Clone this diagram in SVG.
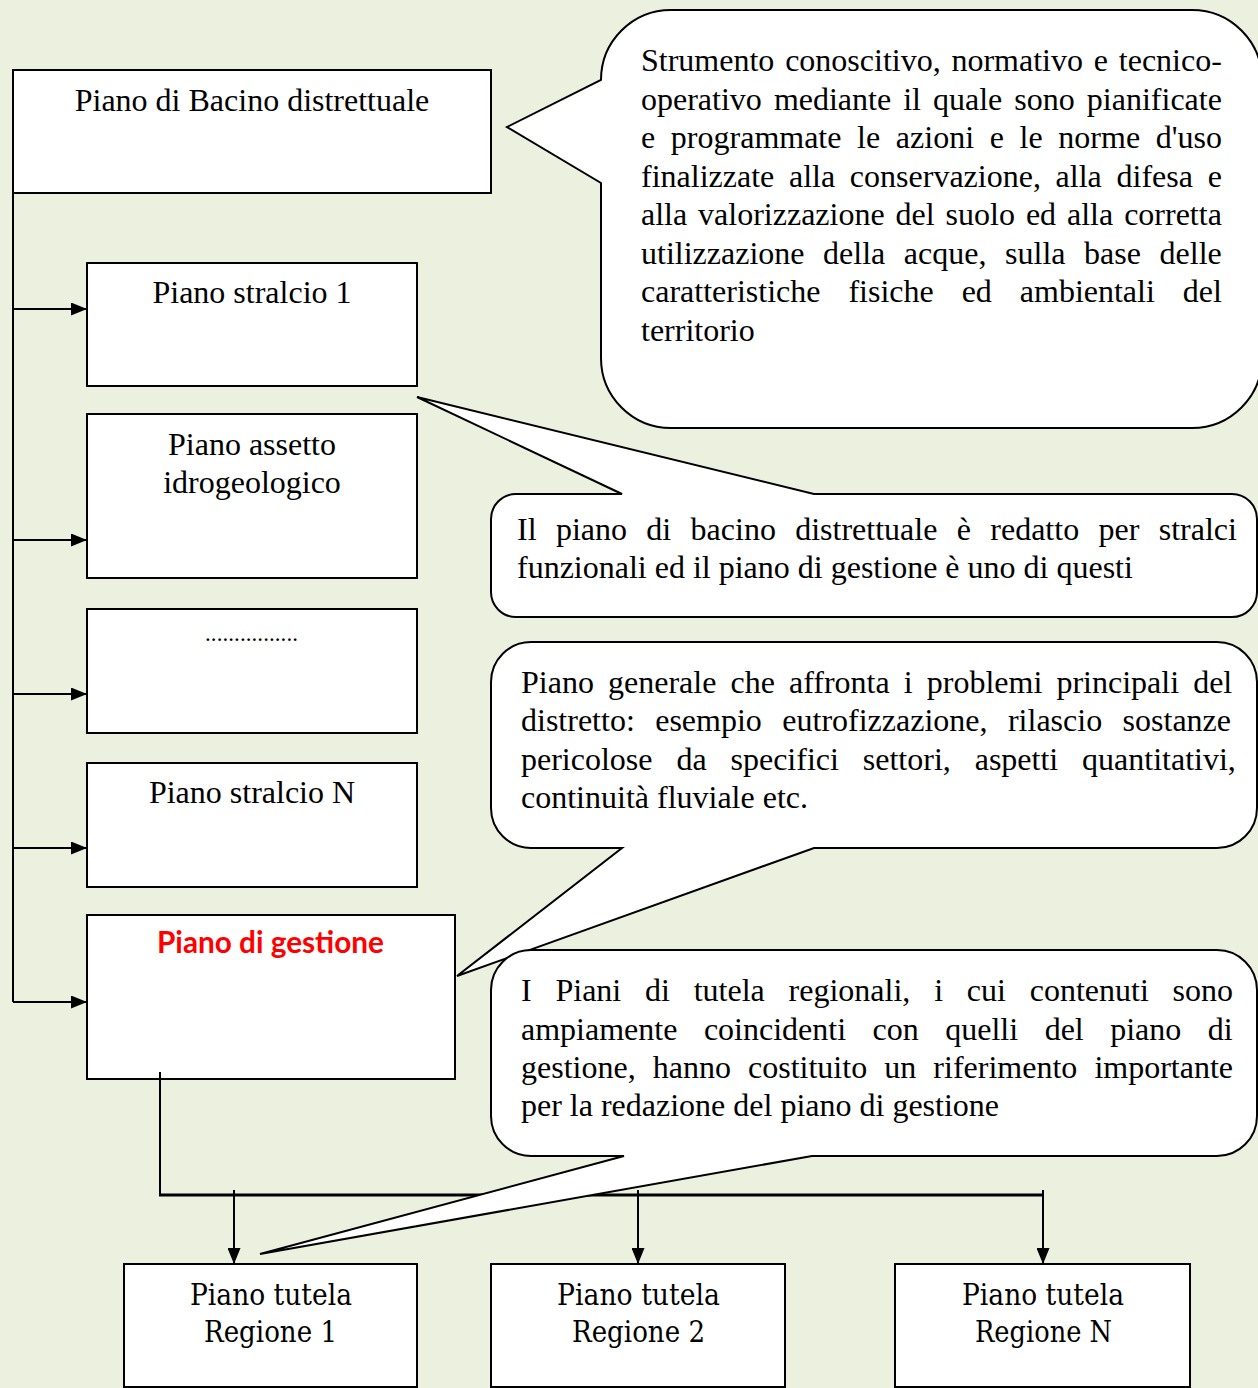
<svg xmlns="http://www.w3.org/2000/svg" width="1258" height="1388" viewBox="0 0 1258 1388">
<style>
.box{fill:#fff;stroke:#000;stroke-width:2}
.call{fill:#fff;stroke:#000;stroke-width:2;stroke-linejoin:miter}
.t{font-family:"Liberation Serif","Times New Roman",serif;font-size:32px;fill:#000}
.c{text-anchor:middle}
.cam{font-family:"DejaVu Serif",serif;font-size:30px;fill:#000}
.red{font-family:Lato,"Liberation Sans",sans-serif;font-weight:bold;font-size:30px;fill:#ff0000}
.ln{fill:none;stroke:#000;stroke-width:2}
</style>
<defs>
<marker id="ah" markerUnits="userSpaceOnUse" markerWidth="16" markerHeight="13" viewBox="0 0 16 13" refX="16" refY="6.5" orient="auto">
<path d="M0,0 L16,6.5 L0,13 z" fill="#000"/>
</marker>
</defs>
<rect width="1258" height="1388" fill="#EBF1DE"/>

<g id="node-bacino"><rect class="box" x="13" y="70" width="478" height="123"/><text class="t c" x="252" y="111">Piano di Bacino distrettuale</text></g>
<g id="node-stralcio1"><rect class="box" x="87" y="263" width="330" height="123"/><text class="t c" x="252" y="303">Piano stralcio 1</text></g>
<g id="node-assetto"><rect class="box" x="87" y="414" width="330" height="164"/><text class="t c" x="252" y="455">Piano assetto</text><text class="t c" x="252" y="493">idrogeologico</text></g>
<g id="node-dots"><rect class="box" x="87" y="609" width="330" height="124"/><text class="t" x="205" y="641" style="font-size:23px" textLength="93" lengthAdjust="spacing">................</text></g>
<g id="node-stralcioN"><rect class="box" x="87" y="763" width="330" height="124"/><text class="t c" x="252" y="803">Piano stralcio N</text></g>
<g id="node-gestione"><rect class="box" x="87" y="915" width="368" height="164"/><text class="red" x="157" y="953" textLength="227" lengthAdjust="spacingAndGlyphs">Piano di gestione</text></g>
<g id="node-reg1"><rect class="box" x="124" y="1264" width="293" height="123"/><text class="cam" x="190" y="1305" textLength="162" lengthAdjust="spacingAndGlyphs">Piano tutela</text><text class="cam" x="204" y="1342" textLength="133" lengthAdjust="spacingAndGlyphs">Regione 1</text></g>
<g id="node-reg2"><rect class="box" x="491" y="1264" width="294" height="123"/><text class="cam" x="557" y="1305" textLength="163" lengthAdjust="spacingAndGlyphs">Piano tutela</text><text class="cam" x="572" y="1342" textLength="133" lengthAdjust="spacingAndGlyphs">Regione 2</text></g>
<g id="node-regN"><rect class="box" x="895" y="1264" width="295" height="123"/><text class="cam" x="962" y="1305" textLength="162" lengthAdjust="spacingAndGlyphs">Piano tutela</text><text class="cam" x="975" y="1342" textLength="137" lengthAdjust="spacingAndGlyphs">Regione N</text></g>

<g id="connectors">
<path class="ln" d="M13,138 V1002"/>
<path class="ln" d="M13,309 H87" marker-end="url(#ah)"/>
<path class="ln" d="M13,540 H87" marker-end="url(#ah)"/>
<path class="ln" d="M13,694 H87" marker-end="url(#ah)"/>
<path class="ln" d="M13,848 H87" marker-end="url(#ah)"/>
<path class="ln" d="M13,1002 H87" marker-end="url(#ah)"/>
<path class="ln" d="M160,1072 V1195"/>
<path class="ln" style="stroke-width:3" d="M159,1195 H1044"/>
<path class="ln" d="M234,1190 V1264" marker-end="url(#ah)"/>
<path class="ln" d="M638,1190 V1264" marker-end="url(#ah)"/>
<path class="ln" d="M1043,1190 V1264" marker-end="url(#ah)"/>
</g>

<g id="callout-strumento">
<path class="call" d="M671,10 H1192 A70,70 0 0 1 1262,80 V358 A70,70 0 0 1 1192,428 H671 A70,70 0 0 1 601,358 V183 L507,127 L601,80 A70,70 0 0 1 671,10 Z"/>
<text class="t" x="641" y="71" style="word-spacing:2.8px">Strumento conoscitivo, normativo e tecnico-</text>
<text class="t" x="641" y="109.5" style="word-spacing:4.04px">operativo mediante il quale sono pianificate</text>
<text class="t" x="641" y="148" style="word-spacing:7.66px">e programmate le azioni e le norme d'uso</text>
<text class="t" x="641" y="186.5" style="word-spacing:6.72px">finalizzate alla conservazione, alla difesa e</text>
<text class="t" x="641" y="225" style="word-spacing:2.93px">alla valorizzazione del suolo ed alla corretta</text>
<text class="t" x="641" y="263.5" style="word-spacing:10.6px">utilizzazione della acque, sulla base delle</text>
<text class="t" x="641" y="302" style="word-spacing:19.95px">caratteristiche fisiche ed ambientali del</text>
<text class="t" x="641" y="340.5">territorio</text>
</g>

<g id="callout-stralci">
<path class="call" d="M516,494 H622 L417,397 L814,494 H1232 A25,25 0 0 1 1257,519 V592 A25,25 0 0 1 1232,617 H516 A25,25 0 0 1 491,592 V519 A25,25 0 0 1 516,494 Z"/>
<text class="t" x="517" y="540" style="word-spacing:11.35px">Il piano di bacino distrettuale è redatto per stralci</text>
<text class="t" x="517" y="578">funzionali ed il piano di gestione è uno di questi</text>
</g>

<g id="callout-generale">
<path class="call" d="M531,642 H1217 A40,40 0 0 1 1257,682 V808 A40,40 0 0 1 1217,848 H814 L457,976 L622,848 H531 A40,40 0 0 1 491,808 V682 A40,40 0 0 1 531,642 Z"/>
<text class="t" x="521" y="693" style="word-spacing:6.11px">Piano generale che affronta i problemi principali del</text>
<text class="t" x="521" y="731" style="word-spacing:12.45px">distretto: esempio eutrofizzazione, rilascio sostanze</text>
<text class="t" x="521" y="770" style="word-spacing:15.9px">pericolose da specifici settori, aspetti quantitativi,</text>
<text class="t" x="521" y="808">continuità fluviale etc.</text>
</g>

<g id="callout-tutela">
<path class="call" d="M531,950 H1217 A40,40 0 0 1 1257,990 V1116 A40,40 0 0 1 1217,1156 H812 L260,1254 L624,1156 H531 A40,40 0 0 1 491,1116 V990 A40,40 0 0 1 531,950 Z"/>
<text class="t" x="521" y="1001" style="word-spacing:15.8px">I Piani di tutela regionali, i cui contenuti sono</text>
<text class="t" x="521" y="1040" style="word-spacing:18.5px">ampiamente coincidenti con quelli del piano di</text>
<text class="t" x="521" y="1078" style="word-spacing:9.1px">gestione, hanno costituito un riferimento importante</text>
<text class="t" x="521" y="1116">per la redazione del piano di gestione</text>
</g>
</svg>
